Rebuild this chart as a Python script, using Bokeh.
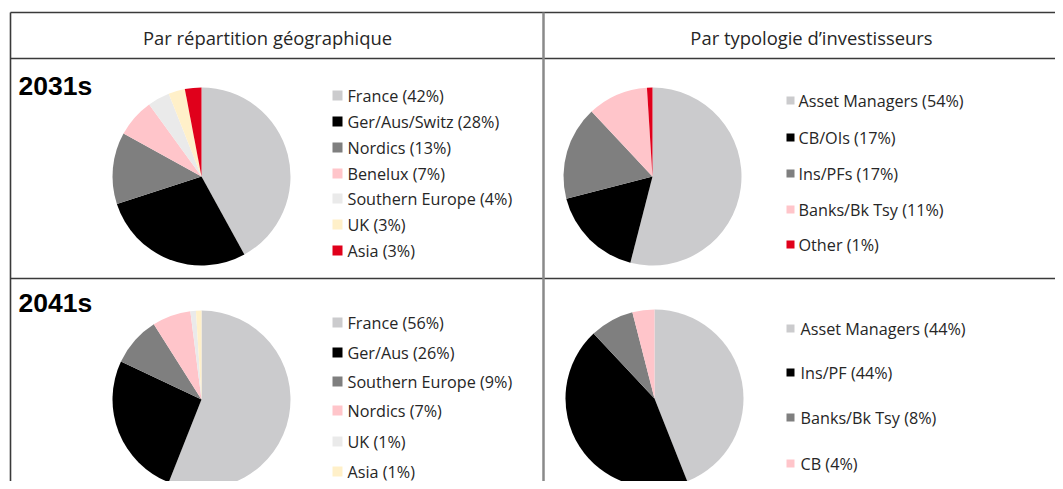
import numpy as np
from bokeh.plotting import figure
from bokeh.models import Range1d
from bokeh.core.properties import value
from bokeh.embed import file_html
from bokeh.resources import INLINE

# ---------------- data ----------------
col_titles = ["Par répartition géographique", "Par typologie d\u2019investisseurs"]
row_titles = ["2031s", "2041s"]

geo31_labels = ["France", "Ger/Aus/Switz", "Nordics", "Benelux", "Southern Europe", "UK", "Asia"]
geo31_values = [42, 28, 13, 7, 4, 3, 3]
geo31_colors = ["#CBCBCD", "#000000", "#7F7F7F", "#FFC5CA", "#EAEAEA", "#FFF0C9", "#E0001B"]

inv31_labels = ["Asset Managers", "CB/OIs", "Ins/PFs", "Banks/Bk Tsy", "Other"]
inv31_values = [54, 17, 17, 11, 1]
inv31_colors = ["#CBCBCD", "#000000", "#7F7F7F", "#FFC5CA", "#E0001B"]

geo41_labels = ["France", "Ger/Aus", "Southern Europe", "Nordics", "UK", "Asia"]
geo41_values = [56, 26, 9, 7, 1, 1]
geo41_colors = ["#CBCBCD", "#000000", "#7F7F7F", "#FFC5CA", "#EAEAEA", "#FFF0C9"]

inv41_labels = ["Asset Managers", "Ins/PF", "Banks/Bk Tsy", "CB"]
inv41_values = [44, 44, 8, 4]
inv41_colors = ["#CBCBCD", "#000000", "#7F7F7F", "#FFC5CA"]

# ---------------- layout ----------------
W, H = 1055, 481
p = figure(width=W, height=H, output_backend="svg", toolbar_location=None,
           x_range=Range1d(0, W), y_range=Range1d(0, H),
           min_border=0, min_border_left=0, min_border_right=0,
           min_border_top=0, min_border_bottom=0)
p.axis.visible = False
p.grid.visible = False
p.outline_line_color = None
p.background_fill_color = "white"
p.border_fill_color = "white"

def Y(img_y):
    return H - img_y

FONT = value("Open Sans")

# table lines
p.segment(x0=[10, 10, 10], y0=[Y(12), Y(58), Y(278)], x1=[1063, 1063, 1063],
          y1=[Y(12), Y(58), Y(278)], line_color="#3a3a3a", line_width=1.6)
p.segment(x0=[10], y0=[Y(12)], x1=[10], y1=[Y(489)], line_color="#3a3a3a", line_width=1.6)
p.segment(x0=[543], y0=[Y(12)], x1=[543], y1=[Y(489)], line_color="#8a8a8a", line_width=2.5)

# column titles
p.text(x=[267, 811], y=[Y(37), Y(37)], text=col_titles, text_font=FONT,
       text_font_size="18.4px", text_align="center", text_baseline="middle", text_color="#262626")
# row titles
p.text(x=[18, 18], y=[Y(85), Y(302)], text=row_titles, text_font=value("Liberation Sans"),
       text_font_style="bold", text_font_size="26.5px", text_align="left",
       text_baseline="middle", text_color="#000000")


def pie(cx, cy, r, vals, colors):
    v = np.array(vals, dtype=float)
    frac = v / v.sum()
    c1 = np.cumsum(frac)
    c0 = c1 - frac
    start = np.pi / 2 - 2 * np.pi * c1
    end = np.pi / 2 - 2 * np.pi * c0
    p.wedge(x=[cx] * len(v), y=[Y(cy)] * len(v), radius=r, start_angle=start,
            end_angle=end, direction="anticlock", fill_color=colors, line_color=None)


def legend(x_sq, x_txt, ys, labels, vals, colors, sq):
    txt = [f"{l} ({v}%)" for l, v in zip(labels, vals)]
    yy = [Y(y) for y in ys]
    p.rect(x=[x_sq] * len(ys), y=yy, width=sq, height=sq, width_units="screen",
           height_units="screen", fill_color=colors, line_color=None)
    p.text(x=[x_txt] * len(ys), y=yy, text=txt, text_font=FONT, text_font_size="16.2px",
           text_align="left", text_baseline="middle", text_color="#262626")


pie(201, 176, 89, geo31_values, geo31_colors)
pie(652, 176, 89, inv31_values, inv31_colors)
pie(201, 399, 89, geo41_values, geo41_colors)
pie(654, 398, 89, inv41_values, inv41_colors)

legend(337, 347, [95, 121, 147, 173, 198, 224, 250], geo31_labels, geo31_values, geo31_colors, 10)
legend(790, 798, [100, 137, 173, 209, 244], inv31_labels, inv31_values, inv31_colors, 8)
legend(337, 347, [322, 352, 381, 410, 441, 471], geo41_labels, geo41_values, geo41_colors, 10)
legend(790, 800, [328, 372, 417, 463], inv41_labels, inv41_values, inv41_colors, 8)

open("out.html", "w").write(file_html(p, INLINE))
